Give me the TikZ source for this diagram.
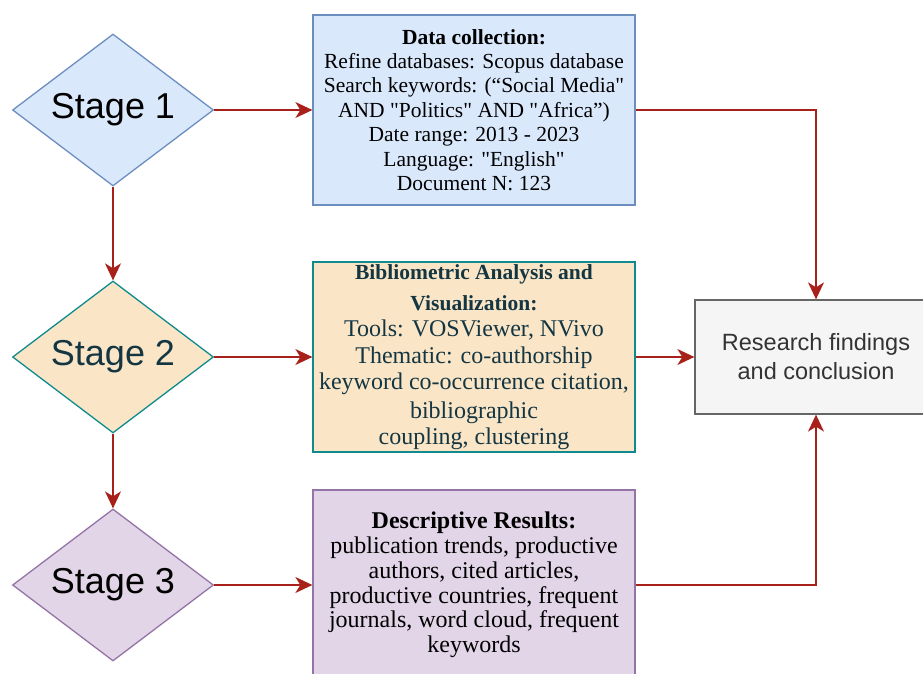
\documentclass[tikz,border=0pt]{standalone}
\usepackage{fontspec}
\setmainfont{Liberation Serif}[Ligatures=TeXOff]
\setsansfont{Liberation Sans}
\usetikzlibrary{shapes.geometric,arrows.meta}
\definecolor{arrowred}{HTML}{A8201A}
\definecolor{blfill}{HTML}{DAE8FC}
\definecolor{blstroke}{HTML}{6C8EBF}
\definecolor{orfill}{HTML}{FAE5C7}
\definecolor{tealstroke}{HTML}{0F8B8D}
\definecolor{navytext}{HTML}{143642}
\definecolor{pufill}{HTML}{E1D5E7}
\definecolor{pustroke}{HTML}{9673A6}
\definecolor{grfill}{HTML}{F5F5F5}
\definecolor{grstroke}{HTML}{666666}
\definecolor{grtext}{HTML}{333333}
\tikzset{
  stagebox/.style={diamond, shape aspect=1.32, inner sep=0pt, minimum width=201pt, minimum height=152pt,
    line width=1.3pt, font=\sffamily\fontsize{36}{40}\selectfont},
  infobox/.style={rectangle, inner sep=2pt, minimum width=322pt, minimum height=190pt, line width=1.3pt, align=center},
  arr/.style={draw=arrowred, line width=1.5pt, -{Stealth[length=17pt,width=16pt,inset=5pt]}}
}
\begin{document}
\begin{tikzpicture}[x=1pt,y=-1pt]
\useasboundingbox (0,0) rectangle (923,674);
% stages
\node[stagebox, fill=blfill, draw=blstroke] (s1) at (113,110) {Stage 1};
\node[stagebox, fill=orfill, draw=tealstroke, text=navytext] (s2) at (113,357) {Stage 2};
\node[stagebox, fill=pufill, draw=pustroke] (s3) at (113,585) {Stage 3};
% boxes
\node[infobox, fill=blfill, draw=blstroke, font=\fontsize{21.5}{24.4}\selectfont] (b1) at (474,110)
 {\textbf{Data collection:}\\Refine databases: Scopus database\\Search keywords: (“Social Media"\\AND "Politics" AND "Africa”)\\Date range: 2013 - 2023\\Language: "English"\\Document N: 123};
\node[infobox, fill=orfill, draw=tealstroke, text=navytext, font=\fontsize{24}{26.4}\selectfont] (b2) at (474,357)
 {{\fontsize{21.5}{24}\selectfont\bfseries Bibliometric Analysis and}\\[5pt]{\fontsize{21.5}{24}\selectfont\bfseries Visualization:}\\Tools: VOSViewer, NVivo\\Thematic: co-authorship\\keyword co-occurrence citation,\\[2pt]bibliographic\\coupling, clustering};
\node[infobox, fill=pufill, draw=pustroke, font=\fontsize{24}{24.7}\selectfont] (b3) at (474,585)
 {\textbf{Descriptive Results:}\\publication trends, productive\\authors, cited articles,\\productive countries, frequent\\journals, word cloud, frequent\\keywords};
\node[rectangle, fill=grfill, draw=grstroke, line width=1.3pt, minimum width=242pt, minimum height=114pt,
  align=center, text=grtext, font=\sffamily\fontsize{23.5}{29}\selectfont] (b4) at (816,357)
 {Research findings\\and conclusion};
% connectors
\draw[arr] (s1.east) -- (b1.west);
\draw[arr] (s2.east) -- (b2.west);
\draw[arr] (s3.east) -- (b3.west);
\draw[arr] (s1.south) -- (s2.north);
\draw[arr] (s2.south) -- (s3.north);
\draw[arr] (b1.east) -| (b4.north);
\draw[arr] (b2.east) -- (b4.west);
\draw[arr] (b3.east) -| (b4.south);
\end{tikzpicture}
\end{document}
